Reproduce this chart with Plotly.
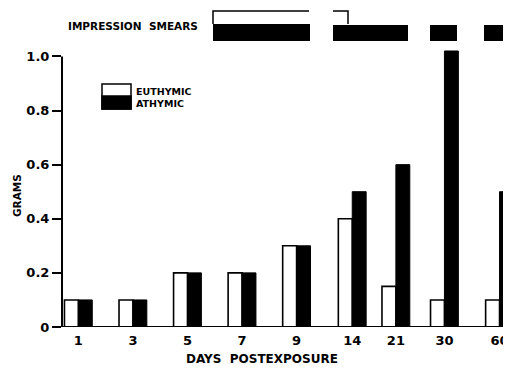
import plotly.graph_objects as go

# ---- data ----
days = ["1", "3", "5", "7", "9", "14", "21", "30", "60"]
euthymic = [0.1, 0.1, 0.2, 0.2, 0.3, 0.4, 0.15, 0.1, 0.1]
athymic = [0.1, 0.1, 0.2, 0.2, 0.3, 0.5, 0.6, 1.02, 0.5]
y_ticks = [0, 0.2, 0.4, 0.6, 0.8, 1.0]
y_tick_labels = ["0", "0.2", "0.4", "0.6", "0.8", "1.0"]

# ---- layout helpers (positions of the day slots on the axis) ----
slot = [0, 1, 2, 3, 4, 5.02, 5.82, 6.71, 7.72]
OFF = 8                      # page body margin
W, H = 511 - OFF, 368 - OFF  # figure size so it fills the window
L, R, T, B = 62 - OFF, 0, 0, 41
PW, PH = W - L - R, H - T - B
BW = 0.255
FONT = "DejaVu Sans, Verdana, sans-serif"


def px(x):
    """window x pixel -> paper x"""
    return (x - OFF - L) / PW


def py(y):
    """window y pixel -> paper y"""
    return (H - B - (y - OFF)) / PH


fig = go.Figure()
fig.add_trace(go.Bar(
    x=slot, y=euthymic, width=BW, offset=-BW,
    marker=dict(color="white", line=dict(color="black", width=1.6)),
    showlegend=False, name="EUTHYMIC"))
fig.add_trace(go.Bar(
    x=slot, y=athymic, width=BW, offset=0,
    marker=dict(color="black", line=dict(color="black", width=1.0)),
    showlegend=False, name="ATHYMIC"))

shapes = []
# axis lines
shapes.append(dict(type="line", xref="paper", yref="y", x0=px(55), x1=1.02, y0=0, y1=0,
                   line=dict(color="black", width=2)))
shapes.append(dict(type="line", xref="paper", yref="y", x0=0, x1=0, y0=0, y1=1.0,
                   line=dict(color="black", width=2)))
# impression smears
for x0, x1, y0, y1 in [(213, 310, 24, 41), (333, 408, 25, 41), (430, 457, 25, 41), (484, 520, 25, 41)]:
    shapes.append(dict(type="rect", xref="paper", yref="paper", x0=px(x0), x1=px(x1),
                       y0=py(y1), y1=py(y0), fillcolor="black", line=dict(width=0)))
shapes.append(dict(type="path", xref="paper", yref="paper",
                   path=f"M {px(213)},{py(24)} L {px(213)},{py(11)} L {px(309)},{py(11)}",
                   line=dict(color="black", width=1.5)))
shapes.append(dict(type="path", xref="paper", yref="paper",
                   path=f"M {px(333)},{py(11)} L {px(348)},{py(11)} L {px(348)},{py(24)}",
                   line=dict(color="black", width=1.5)))
# legend swatch
shapes.append(dict(type="rect", xref="paper", yref="paper", x0=px(102), x1=px(131),
                   y0=py(109), y1=py(84), fillcolor="white", line=dict(color="black", width=1.5)))
shapes.append(dict(type="rect", xref="paper", yref="paper", x0=px(102), x1=px(131),
                   y0=py(109), y1=py(96), fillcolor="black", line=dict(color="black", width=1.5)))

ann = [
    dict(text="<b>IMPRESSION  SMEARS</b>", x=px(66), y=py(26), xanchor="left", yanchor="middle",
         font=dict(size=10.5)),
    dict(text="<b>EUTHYMIC</b>", x=px(134), y=py(91), xanchor="left", yanchor="middle",
         font=dict(size=9.5)),
    dict(text="<b>ATHYMIC</b>", x=px(134), y=py(103), xanchor="left", yanchor="middle",
         font=dict(size=9.5)),
    dict(text="<b>DAYS  POSTEXPOSURE</b>", x=px(262), y=py(359), xanchor="center", yanchor="middle",
         font=dict(size=12)),
    dict(text="<b>GRAMS</b>", x=px(17), y=py(196), xanchor="center", yanchor="middle",
         textangle=-90, font=dict(size=10.5)),
]
for a in ann:
    a.update(xref="paper", yref="paper", showarrow=False)
    a["font"].update(color="black", family=FONT)

fig.update_layout(
    width=W, height=H,
    margin=dict(l=L, r=R, t=T, b=B, pad=0),
    paper_bgcolor="white", plot_bgcolor="white",
    font=dict(family=FONT, color="black", size=13),
    shapes=shapes, annotations=ann,
    xaxis=dict(range=[-0.3, 7.93], tickvals=slot, ticktext=[f"<b>{d}</b>" for d in days],
               showline=False, showgrid=False, zeroline=False, ticks="",
               ticklabelstandoff=4, tickfont=dict(size=13)),
    yaxis=dict(range=[0, PH / 270.6], tickvals=y_ticks,
               ticktext=[f"<b>{t}</b>" for t in y_tick_labels],
               showline=False, showgrid=False, zeroline=False,
               ticks="outside", ticklen=9, tickwidth=2, tickcolor="black",
               tickfont=dict(size=13)),
)

fig.write_html("out.html")
